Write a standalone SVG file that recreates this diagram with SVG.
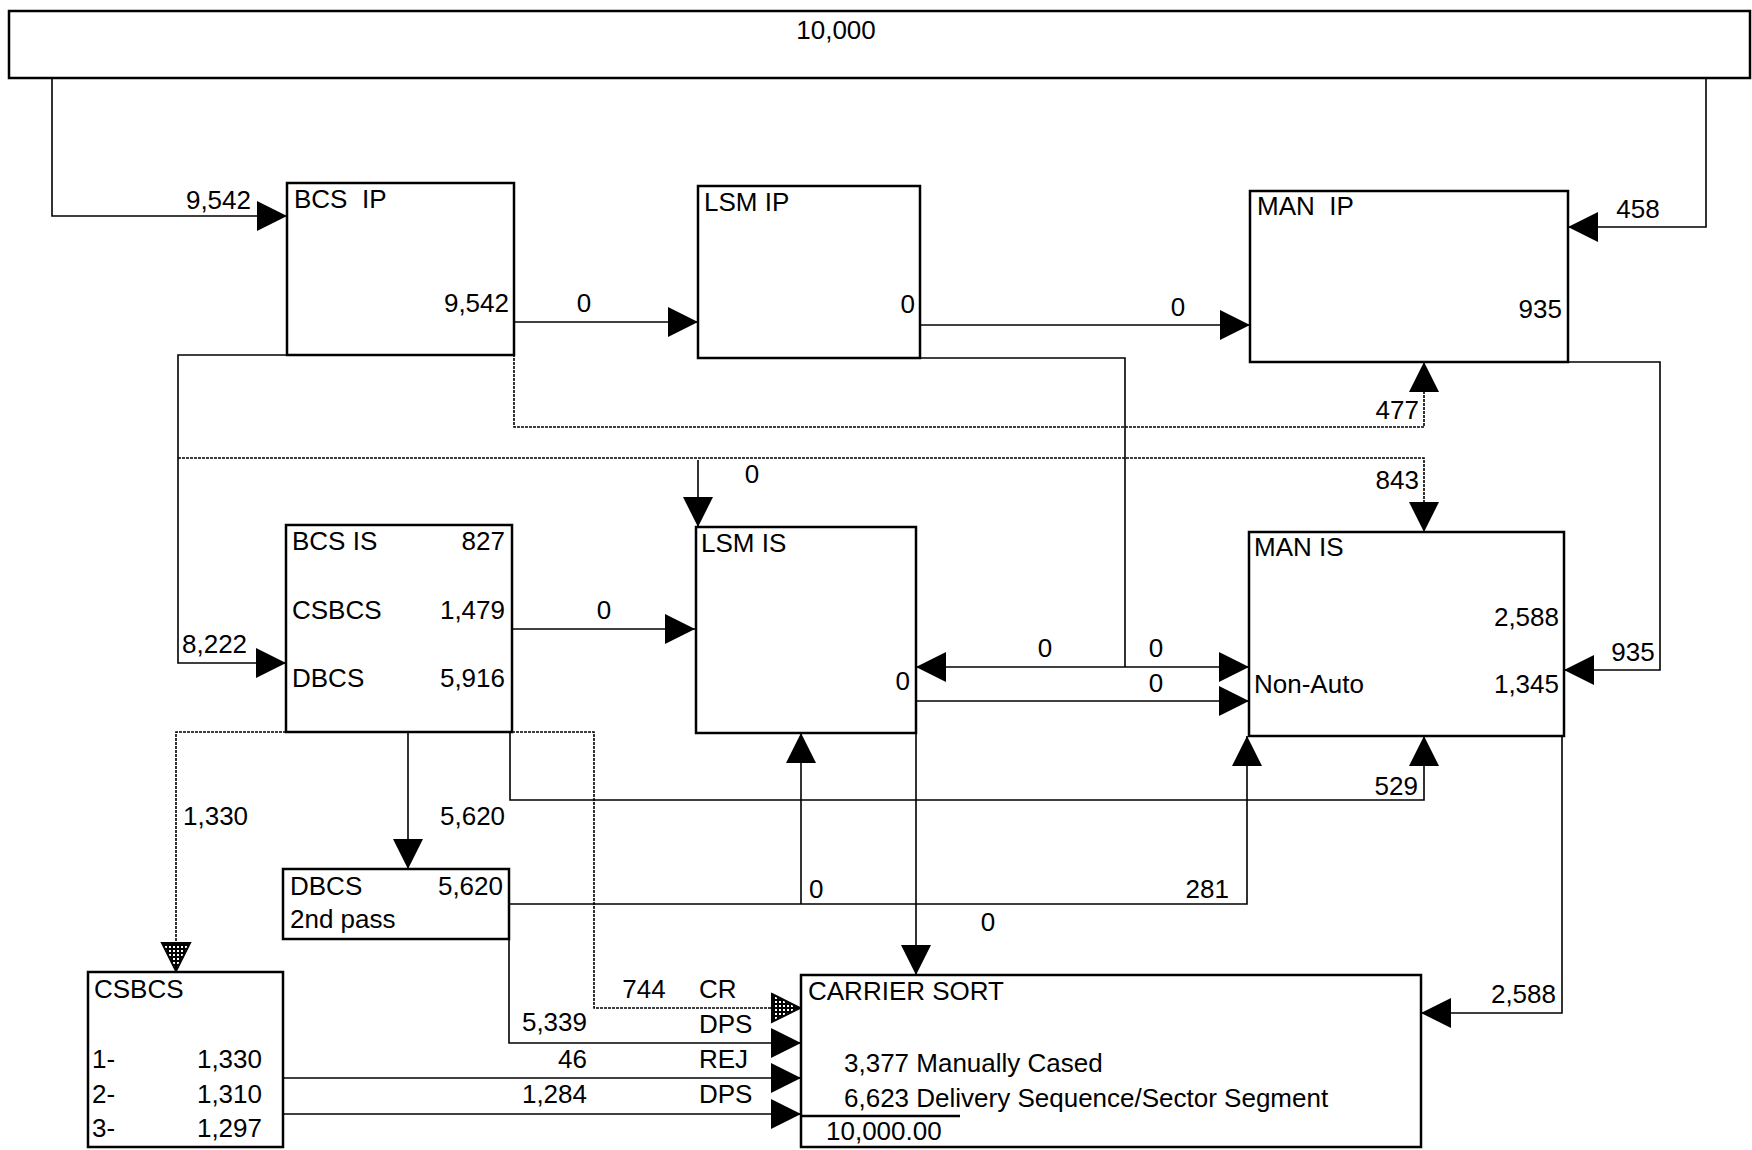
<svg xmlns="http://www.w3.org/2000/svg" width="1752" height="1150" viewBox="0 0 1752 1150">
<style>
text{font-family:"Liberation Sans",Arial,sans-serif;font-size:26px;fill:#000;white-space:pre}
.box{fill:#fff;stroke:#000;stroke-width:2.5}
.c{fill:none;stroke:#000;stroke-width:1.6}
.d{fill:none;stroke:#000;stroke-width:1.6;stroke-dasharray:3 1}
.a{marker-end:url(#ar)}
.h{marker-end:url(#ah)}
.e{text-anchor:end}
.m{text-anchor:middle}
</style>
<defs>
<pattern id="ht" width="4" height="4" patternUnits="userSpaceOnUse">
<rect width="4" height="4" fill="#000"/>
<rect x="0" y="0" width="2" height="2" fill="#fff"/>
</pattern>
<marker id="ar" markerUnits="userSpaceOnUse" markerWidth="31" markerHeight="31" refX="30" refY="15" orient="auto" overflow="visible">
<path d="M0,0 L30,15 L0,30 z" fill="#000"/>
</marker>
<marker id="ah" markerUnits="userSpaceOnUse" markerWidth="31" markerHeight="31" refX="30" refY="15" orient="auto" overflow="visible">
<path d="M1,1 L29,15 L1,29 z" fill="url(#ht)" stroke="#000" stroke-width="2"/>
</marker>
</defs>
<rect width="1752" height="1150" fill="#fff"/>

<g id="connectors">
<path class="c a" d="M52,78 V216 H287"/>
<path class="c a" d="M1706,78 V227 H1568"/>
<path class="c a" d="M514,322 H698"/>
<path class="c a" d="M920,325 H1250"/>
<path class="d a" d="M514,354 V427 H1424 V362"/>
<path class="c a" d="M287,355 H178 V663 H286"/>
<path class="d a" d="M178,458 H1424 V532"/>
<path class="c a" d="M698,460 V527"/>
<path class="c a" d="M512,629 H695"/>
<path class="c" d="M920,358 H1125 V667"/>
<path class="c a" d="M1125,667 H916"/>
<path class="c a" d="M1125,667 H1249"/>
<path class="c a" d="M916,701 H1249"/>
<path class="c a" d="M1568,362 H1660 V670 H1564"/>
<path class="c a" d="M1562,736 V1013 H1421"/>
<path class="c a" d="M510,732 V800 H1424 V736"/>
<path class="c a" d="M408,732 V869"/>
<path class="d h" d="M286,732 H176 V972"/>
<path class="d h" d="M512,732 H594 V1008 H801"/>
<path class="c a" d="M509,904 H1247 V736"/>
<path class="c a" d="M801,904 V733"/>
<path class="c a" d="M916,733 V975"/>
<path class="c a" d="M509,939 V1043 H801"/>
<path class="c a" d="M283,1078 H801"/>
<path class="c a" d="M283,1114 H801"/>

<text class="e" x="251" y="209">9,542</text>
<text class="m" x="1638" y="218">458</text>
<text class="m" x="584" y="312">0</text>
<text class="m" x="1178" y="316">0</text>
<text class="e" x="1419" y="419">477</text>
<text x="182" y="653">8,222</text>
<text class="e" x="1419" y="489">843</text>
<text class="m" x="752" y="483">0</text>
<text class="m" x="604" y="619">0</text>
<text class="m" x="1045" y="657">0</text>
<text class="m" x="1156" y="657">0</text>
<text class="m" x="1156" y="692">0</text>
<text class="m" x="1633" y="661">935</text>
<text class="e" x="1556" y="1003">2,588</text>
<text class="e" x="1418" y="795">529</text>
<text x="440" y="825">5,620</text>
<text x="183" y="825">1,330</text>
<text class="m" x="644" y="998">744</text>
<text x="699" y="998">CR</text>
<text x="809" y="898">0</text>
<text class="e" x="1229" y="898">281</text>
<text class="m" x="988" y="931">0</text>
<text class="e" x="587" y="1031">5,339</text>
<text x="699" y="1033">DPS</text>
<text class="e" x="587" y="1068">46</text>
<text x="699" y="1068">REJ</text>
<text class="e" x="587" y="1103">1,284</text>
<text x="699" y="1103">DPS</text>
</g>

<g id="total">
<rect class="box" x="9" y="11" width="1741" height="67"/>
<text class="m" x="836" y="39">10,000</text>
</g>

<g id="bcs-ip">
<rect class="box" x="287" y="183" width="227" height="172"/>
<text x="294" y="208">BCS  IP</text>
<text class="e" x="509" y="312">9,542</text>
</g>

<g id="lsm-ip">
<rect class="box" x="698" y="186" width="222" height="172"/>
<text x="704" y="211">LSM IP</text>
<text class="e" x="915" y="313">0</text>
</g>

<g id="man-ip">
<rect class="box" x="1250" y="191" width="318" height="171"/>
<text x="1257" y="215">MAN  IP</text>
<text class="e" x="1562" y="318">935</text>
</g>

<g id="bcs-is">
<rect class="box" x="286" y="525" width="226" height="207"/>
<text x="292" y="550">BCS IS</text>
<text class="e" x="505" y="550">827</text>
<text x="292" y="619">CSBCS</text>
<text class="e" x="505" y="619">1,479</text>
<text x="292" y="687">DBCS</text>
<text class="e" x="505" y="687">5,916</text>
</g>

<g id="lsm-is">
<rect class="box" x="696" y="527" width="220" height="206"/>
<text x="701" y="552">LSM IS</text>
<text class="e" x="910" y="690">0</text>
</g>

<g id="man-is">
<rect class="box" x="1249" y="532" width="315" height="204"/>
<text x="1254" y="556">MAN IS</text>
<text class="e" x="1559" y="626">2,588</text>
<text x="1254" y="693">Non-Auto</text>
<text class="e" x="1559" y="693">1,345</text>
</g>

<g id="dbcs-2nd">
<rect class="box" x="283" y="869" width="226" height="70"/>
<text x="290" y="895">DBCS</text>
<text class="e" x="503" y="895">5,620</text>
<text x="290" y="928">2nd pass</text>
</g>

<g id="csbcs">
<rect class="box" x="88" y="972" width="195" height="175"/>
<text x="94" y="998">CSBCS</text>
<text x="92" y="1068">1-</text>
<text class="e" x="262" y="1068">1,330</text>
<text x="92" y="1103">2-</text>
<text class="e" x="262" y="1103">1,310</text>
<text x="92" y="1137">3-</text>
<text class="e" x="262" y="1137">1,297</text>
</g>

<g id="carrier-sort">
<rect class="box" x="801" y="975" width="620" height="172"/>
<text x="808" y="1000">CARRIER SORT</text>
<text x="844" y="1072">3,377 Manually Cased</text>
<text x="844" y="1107">6,623 Delivery Sequence/Sector Segment</text>
<path d="M801,1116 H960" stroke="#000" stroke-width="2.5"/>
<text x="826" y="1140">10,000.00</text>
</g>
</svg>
